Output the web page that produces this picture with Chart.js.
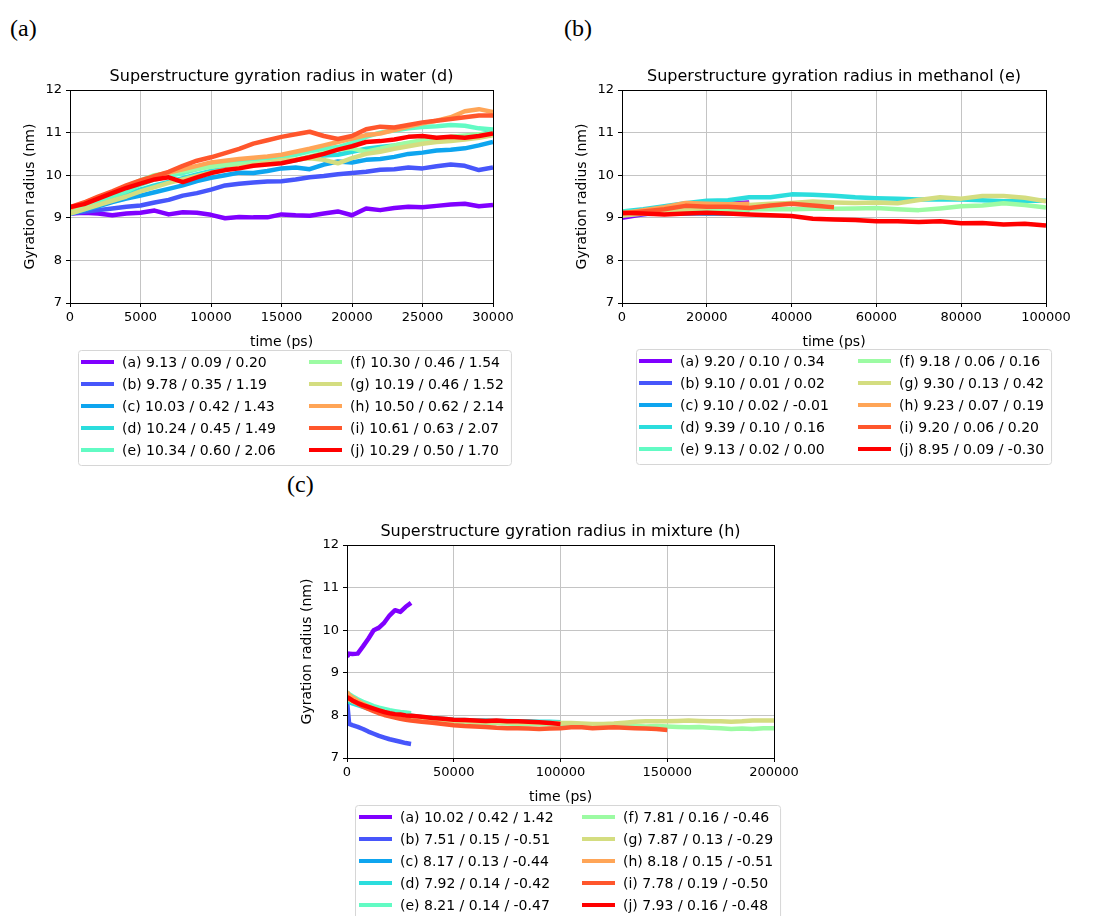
<!DOCTYPE html>
<html>
<head>
<meta charset="utf-8">
<script src="https://cdn.jsdelivr.net/npm/chart.js"></script>
<style>
  body { margin: 0; background: #fff; width: 1095px; height: 916px; overflow: hidden; position: relative; }
  canvas { position: absolute; }
  .tag { position: absolute; font-family: "Liberation Serif", serif; font-size: 24px; line-height: 1; color: #000; }
</style>
</head>
<body>
<div class="tag" style="left:10px;top:16px">(a)</div>
<div class="tag" style="left:564px;top:16px">(b)</div>
<div class="tag" style="left:287px;top:472px">(c)</div>
<canvas id="water" width="545" height="480" style="left:0;top:0"></canvas>
<canvas id="methanol" width="545" height="480" style="left:550px;top:0"></canvas>
<canvas id="mixture" width="540" height="476" style="left:280px;top:440px"></canvas>
<script>
// rainbow colours, one per run (a)..(j)
const runColors = ["#8000ff", "#4756fb", "#0ea5ef", "#2bdddd", "#62fbc4",
                   "#9cfba3", "#d4dd80", "#ffa557", "#ff562c", "#ff0000"];

// ---- water (d) ----
const waterTime = [0, 1000, 2000, 3000, 4000, 5000, 6000, 7000, 8000, 9000, 10000,
  11000, 12000, 13000, 14000, 15000, 16000, 17000, 18000, 19000, 20000,
  21000, 22000, 23000, 24000, 25000, 26000, 27000, 28000, 29000, 30000];
const waterRuns = [
  [9.10,9.12,9.10,9.06,9.10,9.12,9.17,9.08,9.13,9.12,9.07,8.99,9.02,9.01,9.01,9.08,9.06,9.05,9.10,9.15,9.06,9.22,9.18,9.23,9.26,9.25,9.28,9.31,9.33,9.27,9.30],
  [9.10,9.14,9.18,9.22,9.26,9.29,9.36,9.42,9.52,9.58,9.66,9.76,9.80,9.83,9.85,9.86,9.90,9.95,9.98,10.02,10.05,10.08,10.13,10.14,10.18,10.16,10.21,10.25,10.22,10.12,10.18],
  [9.10,9.18,9.27,9.37,9.45,9.52,9.60,9.68,9.76,9.86,9.94,10.00,10.06,10.05,10.10,10.16,10.18,10.14,10.25,10.32,10.30,10.36,10.38,10.43,10.50,10.53,10.58,10.60,10.63,10.70,10.78],
  [9.10,9.20,9.32,9.43,9.55,9.66,9.76,9.84,9.93,10.02,10.10,10.15,10.20,10.24,10.28,10.30,10.35,10.42,10.46,10.48,10.55,10.62,10.66,10.70,10.75,10.78,10.82,10.85,10.88,10.95,11.02],
  [9.12,9.24,9.38,9.50,9.62,9.78,9.90,9.98,10.05,10.14,10.22,10.28,10.33,10.38,10.40,10.43,10.48,10.56,10.62,10.66,10.76,10.90,11.00,11.05,11.10,11.13,11.15,11.18,11.16,11.10,11.07],
  [9.12,9.28,9.45,9.60,9.74,9.88,10.00,10.05,10.10,10.15,10.20,10.24,10.26,10.28,10.30,10.31,10.36,10.44,10.52,10.60,10.63,10.55,10.62,10.70,10.76,10.82,10.86,10.90,10.93,10.96,10.98],
  [9.10,9.20,9.30,9.40,9.50,9.62,9.72,9.82,9.90,9.98,10.06,10.12,10.18,10.24,10.30,10.35,10.37,10.40,10.36,10.28,10.40,10.50,10.55,10.62,10.68,10.74,10.78,10.80,10.84,10.88,10.94],
  [9.22,9.35,9.48,9.60,9.73,9.86,9.98,10.06,10.14,10.22,10.30,10.34,10.38,10.41,10.44,10.48,10.55,10.62,10.70,10.78,10.86,10.94,10.98,11.06,11.14,11.22,11.28,11.36,11.50,11.55,11.48],
  [9.25,9.36,9.50,9.62,9.76,9.88,9.98,10.08,10.22,10.34,10.42,10.52,10.62,10.74,10.82,10.90,10.96,11.02,10.92,10.85,10.92,11.08,11.14,11.12,11.18,11.24,11.28,11.32,11.36,11.40,11.40],
  [9.25,9.32,9.45,9.58,9.70,9.80,9.90,9.95,9.84,9.95,10.05,10.12,10.16,10.22,10.25,10.28,10.35,10.42,10.50,10.60,10.68,10.78,10.80,10.84,10.90,10.92,10.88,10.90,10.88,10.92,10.98]
];
const waterLabels = ["(a) 9.13 / 0.09 / 0.20", "(b) 9.78 / 0.35 / 1.19", "(c) 10.03 / 0.42 / 1.43",
  "(d) 10.24 / 0.45 / 1.49", "(e) 10.34 / 0.60 / 2.06", "(f) 10.30 / 0.46 / 1.54",
  "(g) 10.19 / 0.46 / 1.52", "(h) 10.50 / 0.62 / 2.14", "(i) 10.61 / 0.63 / 2.07",
  "(j) 10.29 / 0.50 / 1.70"];

// ---- methanol (e) ----
const methanolTime = [0, 5000, 10000, 15000, 20000, 25000, 30000, 35000, 40000, 45000, 50000,
  55000, 60000, 65000, 70000, 75000, 80000, 85000, 90000, 95000, 100000];
const methanolRuns = [
  [9.00,9.08,9.15,9.20,9.26,9.33,9.36],
  [9.08,9.09,9.10,9.10,9.11,9.10,9.11],
  [9.11,9.10,9.10,9.11,9.10,9.10,9.10],
  [9.15,9.20,9.27,9.34,9.40,9.41,9.48,9.48,9.55,9.54,9.52,9.48,9.46,9.45,9.43,9.43,9.43,9.41,9.39,9.40,9.40],
  [9.15,9.13,9.12,9.13,9.14,9.13,9.13],
  [9.10,9.13,9.15,9.17,9.18,9.18,9.20,9.20,9.20,9.21,9.21,9.22,9.23,9.20,9.18,9.22,9.27,9.29,9.34,9.30,9.24],
  [9.05,9.10,9.15,9.20,9.25,9.28,9.30,9.33,9.35,9.38,9.36,9.35,9.36,9.34,9.42,9.48,9.45,9.51,9.51,9.47,9.39],
  [9.10,9.18,9.25,9.35,9.33,9.32,9.33],
  [9.10,9.15,9.20,9.28,9.26,9.26,9.23,9.29,9.33,9.29,9.25],
  [9.12,9.10,9.08,9.10,9.12,9.10,9.08,9.06,9.04,8.98,8.96,8.95,8.92,8.92,8.90,8.92,8.87,8.88,8.84,8.86,8.82]
];
const methanolLabels = ["(a) 9.20 / 0.10 / 0.34", "(b) 9.10 / 0.01 / 0.02", "(c) 9.10 / 0.02 / -0.01",
  "(d) 9.39 / 0.10 / 0.16", "(e) 9.13 / 0.02 / 0.00", "(f) 9.18 / 0.06 / 0.16",
  "(g) 9.30 / 0.13 / 0.42", "(h) 9.23 / 0.07 / 0.19", "(i) 9.20 / 0.06 / 0.20",
  "(j) 8.95 / 0.09 / -0.30"];

// ---- mixture (h) ----
const mixtureTime = [0, 1000, 2500, 5000, 7500, 10000, 12500, 15000, 17500, 20000, 22500, 25000, 27500, 30000,
  35000, 40000, 45000, 50000, 55000, 60000, 65000, 70000, 75000, 80000, 85000, 90000, 95000, 100000,
  105000, 110000, 115000, 120000, 125000, 130000, 135000, 140000, 145000, 150000,
  155000, 160000, 165000, 170000, 175000, 180000, 185000, 190000, 195000, 200000];
const mixtureRuns = [
  [9.38,9.45,9.44,9.45,9.62,9.80,10.00,10.06,10.18,10.35,10.47,10.43,10.55,10.64],
  [8.35,7.80,7.77,7.73,7.68,7.62,7.57,7.52,7.48,7.44,7.41,7.38,7.35,7.33],
  [8.45,8.42,8.38,8.32,8.26,8.21,8.17,8.13,8.10,8.08,8.06,8.04,8.02,8.01],
  [8.35,8.32,8.28,8.24,8.20,8.16,8.13,8.10,8.08,8.06,8.04,8.02,8.00,7.99,
   7.96,7.94,7.92,7.90,7.89,7.88,7.88,7.87,7.87,7.86,7.86,7.85,7.85,7.84],
  [8.55,8.50,8.45,8.38,8.32,8.27,8.22,8.18,8.15,8.12,8.10,8.08,8.07,8.05],
  [8.45,8.42,8.38,8.32,8.26,8.21,8.16,8.12,8.08,8.04,8.01,7.98,7.96,7.94,
   7.91,7.89,7.87,7.85,7.84,7.83,7.82,7.82,7.81,7.80,7.80,7.79,7.79,7.78,
   7.78,7.77,7.77,7.76,7.76,7.75,7.75,7.74,7.75,7.74,
   7.73,7.72,7.73,7.71,7.70,7.68,7.69,7.68,7.70,7.70],
  [8.40,8.37,8.33,8.28,8.22,8.17,8.12,8.08,8.05,8.02,8.00,7.98,7.96,7.94,
   7.92,7.90,7.88,7.87,7.86,7.85,7.85,7.84,7.84,7.83,7.83,7.82,7.82,7.82,
   7.82,7.81,7.80,7.80,7.81,7.83,7.85,7.86,7.86,7.86,
   7.87,7.88,7.87,7.86,7.86,7.85,7.86,7.88,7.88,7.88],
  [8.55,8.48,8.42,8.34,8.27,8.21,8.15,8.10,8.06,8.02,7.99,7.96,7.94,7.92],
  [8.45,8.40,8.35,8.28,8.21,8.15,8.10,8.05,8.01,7.98,7.95,7.92,7.90,7.88,
   7.85,7.83,7.80,7.77,7.75,7.74,7.73,7.71,7.70,7.70,7.69,7.68,7.69,7.70,
   7.72,7.72,7.70,7.71,7.72,7.71,7.70,7.69,7.68,7.66],
  [8.42,8.40,8.35,8.29,8.24,8.20,8.16,8.12,8.08,8.05,8.03,8.02,8.00,7.99,
   7.97,7.94,7.92,7.90,7.89,7.88,7.87,7.88,7.86,7.86,7.85,7.84,7.82,7.80]
];
const mixtureLabels = ["(a) 10.02 / 0.42 / 1.42", "(b) 7.51 / 0.15 / -0.51", "(c) 8.17 / 0.13 / -0.44",
  "(d) 7.92 / 0.14 / -0.42", "(e) 8.21 / 0.14 / -0.47", "(f) 7.81 / 0.16 / -0.46",
  "(g) 7.87 / 0.13 / -0.29", "(h) 8.18 / 0.15 / -0.51", "(i) 7.78 / 0.19 / -0.50",
  "(j) 7.93 / 0.16 / -0.48"];

const FONT = '"DejaVu Sans", sans-serif';

// draws the title over the axes, the black axes box and the two-column legend
const framePlugin = {
  id: 'frame',
  afterDraw(chart, args, opts) {
    const ctx = chart.ctx;
    const a = chart.chartArea;
    ctx.save();
    ctx.strokeStyle = '#000';
    ctx.lineWidth = 1;
    ctx.strokeRect(Math.round(a.left) + 0.5, Math.round(a.top) + 0.5,
      Math.round(a.right - a.left), Math.round(a.bottom - a.top));

    ctx.fillStyle = '#000';
    ctx.font = '16px ' + FONT;
    ctx.textAlign = 'center';
    ctx.textBaseline = 'middle';
    ctx.fillText(opts.title, (a.left + a.right) / 2, a.top - 13);

    const lg = opts.legend;
    const sets = chart.data.datasets;
    ctx.font = '14px ' + FONT;
    ctx.textAlign = 'left';
    let widest = 0;
    for (let i = 5; i < sets.length; i++) {
      widest = Math.max(widest, ctx.measureText(sets[i].label).width);
    }
    const w = lg.col2 + 41 + widest + 7 - lg.x;
    ctx.beginPath();
    ctx.roundRect(lg.x + 0.5, lg.y + 0.5, w, lg.h, 3);
    ctx.fillStyle = 'rgba(255,255,255,0.85)';
    ctx.fill();
    ctx.strokeStyle = '#d6d6d6';
    ctx.stroke();

    for (let i = 0; i < sets.length; i++) {
      const lx = i < 5 ? lg.col1 : lg.col2;
      const cy = lg.y + 12 + (i % 5) * 22;
      ctx.strokeStyle = sets[i].borderColor;
      ctx.lineWidth = 4;
      ctx.beginPath();
      ctx.moveTo(lx, cy);
      ctx.lineTo(lx + 33, cy);
      ctx.stroke();
      ctx.fillStyle = '#000';
      ctx.fillText(sets[i].label, lx + 41, cy + 1);
    }
    ctx.restore();
  }
};

function drawRuns(id, title, times, runs, labels, xMax, xStep, box) {
  const datasets = runs.map(function (vals, i) {
    return {
      label: labels[i],
      data: vals.map(function (v, k) { return {x: times[k], y: v}; }),
      borderColor: runColors[i],
      backgroundColor: runColors[i],
      borderWidth: 4.5,
      borderJoinStyle: 'round',
      pointRadius: 0,
      fill: false,
      tension: 0,
      order: 10 - i
    };
  });

  return new Chart(id, {
    type: 'line',
    data: {datasets: datasets},
    options: {
      responsive: false,
      animation: false,
      layout: {padding: box.pad},
      plugins: {
        legend: {display: false},
        tooltip: {enabled: false},
        title: {display: false},
        frame: {title: title, legend: box.legend}
      },
      scales: {
        x: {
          type: 'linear',
          min: 0,
          max: xMax,
          afterFit: function (s) { s.height = 48; },
          ticks: {
            stepSize: xStep,
            autoSkip: false,
            maxRotation: 0,
            color: '#000',
            padding: 3,
            font: {family: FONT, size: 13},
            callback: function (v) { return String(v); }
          },
          grid: {color: '#c4c4c4', tickColor: '#000', tickLength: 4},
          border: {display: false},
          title: {display: true, text: 'time (ps)', color: '#000', padding: 0,
                  font: {family: FONT, size: 14}}
        },
        y: {
          min: 7,
          max: 12,
          afterFit: function (s) { s.width = box.yWidth; },
          ticks: {
            stepSize: 1,
            color: '#000',
            padding: 4,
            font: {family: FONT, size: 13}
          },
          grid: {color: '#c4c4c4', tickColor: '#000', tickLength: 4},
          border: {display: false},
          title: {display: true, text: 'Gyration radius (nm)', color: '#000', padding: 0,
                  font: {family: FONT, size: 14}}
        }
      }
    },
    plugins: [framePlugin]
  });
}

drawRuns('water', 'Superstructure gyration radius in water (d)', waterTime, waterRuns, waterLabels,
  30000, 5000,
  {pad: {left: 22, top: 90, right: 52, bottom: 129}, yWidth: 48,
   legend: {x: 78, y: 350, h: 115, col1: 81, col2: 309}});

drawRuns('methanol', 'Superstructure gyration radius in methanol (e)', methanolTime, methanolRuns, methanolLabels,
  100000, 20000,
  {pad: {left: 24, top: 90, right: 49, bottom: 129}, yWidth: 48,
   legend: {x: 86, y: 349, h: 115, col1: 89, col2: 308}});

drawRuns('mixture', 'Superstructure gyration radius in mixture (h)', mixtureTime, mixtureRuns, mixtureLabels,
  200000, 50000,
  {pad: {left: 19, top: 105, right: 46, bottom: 110}, yWidth: 48,
   legend: {x: 75, y: 365, h: 115, col1: 79, col2: 302}});
</script>
</body>
</html>
